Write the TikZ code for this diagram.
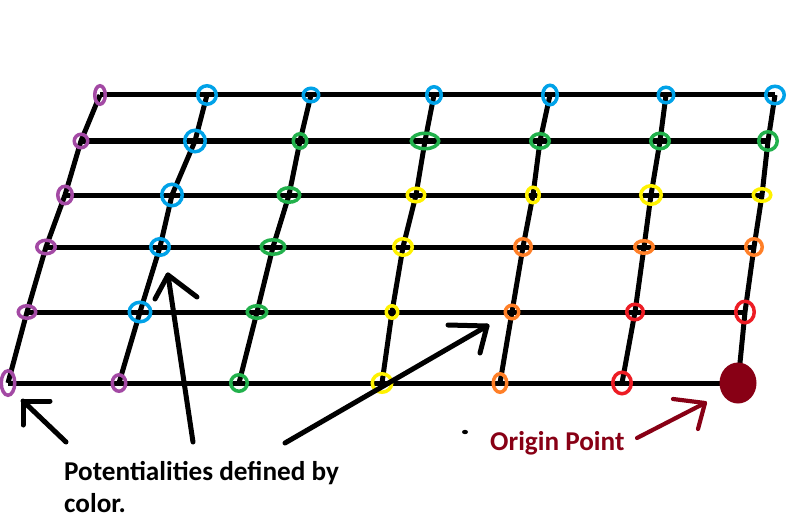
\documentclass[tikz,border=0pt]{standalone}
\usepackage{fontspec}
\setmainfont{Carlito}
\definecolor{ppurple}{HTML}{A349A4}
\definecolor{pblue}{HTML}{00A2E8}
\definecolor{pgreen}{HTML}{22B14C}
\definecolor{pyellow}{HTML}{FFF200}
\definecolor{porange}{HTML}{FF7F27}
\definecolor{pred}{HTML}{ED1C24}
\definecolor{pdarkred}{HTML}{880015}
\tikzset{
  gridline/.style={black,line width=5pt,line join=round},
  ringline/.style={line width=3.5pt},
  arrowline/.style={black,line width=5pt,line join=round,line cap=round},
  originarrow/.style={pdarkred,line width=4.2pt,line join=round,line cap=round},
  labeltext/.style={anchor=base west,inner sep=0pt,font=\fontsize{27.2}{32}\selectfont\bfseries}
}
\newcommand\pring[4]{\draw[ringline,#2] (#1) ellipse [x radius={((#3)-3.5)*0.5pt}, y radius={((#4)-3.5)*0.5pt}];}
\begin{document}
\begin{tikzpicture}[x=1pt,y=-1pt]
\useasboundingbox[fill=white] (0,0) rectangle (800,532);
% grid intersections
\foreach \x [count=\c from 0] in {100,207,311,434,550,666,775} \coordinate (r0-c\c) at (\x,95);
\foreach \x [count=\c from 0] in {81,195,300,425,540,660,768} \coordinate (r1-c\c) at (\x,141);
\foreach \x [count=\c from 0] in {65,172,289,416,533,651,762} \coordinate (r2-c\c) at (\x,195);
\foreach \x [count=\c from 0] in {46,160,273,403,523,644,754} \coordinate (r3-c\c) at (\x,247);
\foreach \x [count=\c from 0] in {27,140,257,392,512,635,745} \coordinate (r4-c\c) at (\x,312);
\foreach \x [count=\c from 0] in {8,119,239,382,500,622,738} \coordinate (r5-c\c) at (\x,383);
% grid lines
\foreach \r in {0,...,5} \draw[gridline] (r\r-c0) -- (r\r-c6);
\foreach \c in {0,...,6} \draw[gridline] (r0-c\c) -- (r1-c\c) -- (r2-c\c) -- (r3-c\c) -- (r4-c\c) -- (r5-c\c);
% rings row 0
\pring{r0-c0}{ppurple}{14}{22}
\pring{r0-c1}{pblue}{22}{22}
\pring{r0-c2}{pblue}{19}{17}
\pring{r0-c3}{pblue}{18}{20}
\pring{r0-c4}{pblue}{18}{23}
\pring{r0-c5}{pblue}{19}{19}
\pring{r0-c6}{pblue}{22}{21}
% row 1
\pring{r1-c0}{ppurple}{17}{17}
\pring{r1-c1}{pblue}{24}{25}
\pring{r1-c2}{pgreen}{17}{18}
\pring{r1-c3}{pgreen}{31}{19}
\pring{r1-c4}{pgreen}{22}{18}
\pring{r1-c5}{pgreen}{22}{19}
\pring{r1-c6}{pgreen}{22}{22}
% row 2
\pring{r2-c0}{ppurple}{18}{21}
\pring{r2-c1}{pblue}{24}{25}
\pring{r2-c2}{pgreen}{25}{18}
\pring{r2-c3}{pyellow}{21}{17}
\pring{r2-c4}{pyellow}{16}{19}
\pring{r2-c5}{pyellow}{24}{22}
\pring{r2-c6}{pyellow}{21}{16}
% row 3
\pring{r3-c0}{ppurple}{22}{17}
\pring{r3-c1}{pblue}{22}{20}
\pring{r3-c2}{pgreen}{27}{18}
\pring{r3-c3}{pyellow}{22}{20}
\pring{r3-c4}{porange}{20}{20}
\pring{r3-c5}{porange}{22}{16}
\pring{r3-c6}{porange}{20}{20}
% row 4
\pring{r4-c0}{ppurple}{21}{16}
\pring{r4-c1}{pblue}{25}{23}
\pring{r4-c2}{pgreen}{23}{16}
\pring{r4-c3}{pyellow}{15}{16}
\pring{r4-c4}{porange}{17}{17}
\pring{r4-c5}{pred}{20}{19}
\pring{r4-c6}{pred}{22}{25}
% row 5
\pring{r5-c0}{ppurple}{17}{28}
\pring{r5-c1}{ppurple}{17}{20}
\pring{r5-c2}{pgreen}{20}{20}
\pring{r5-c3}{pyellow}{23}{22}
\pring{r5-c4}{porange}{17}{22}
\pring{r5-c5}{pred}{22}{25}
\fill[pdarkred] (r5-c6) ellipse [x radius=18.5pt, y radius=20.5pt];
% arrows
\coordinate (a1tail) at (66,442); \coordinate (a1tip) at (23,401);
\coordinate (a1armA) at (50,401); \coordinate (a1armB) at (23,425);
\draw[arrowline] (a1tail) -- (a1tip);
\draw[arrowline] (a1armA) -- (a1tip) -- (a1armB);
\coordinate (a2tail) at (193,442); \coordinate (a2tip) at (168,275);
\coordinate (a2armA) at (155,299); \coordinate (a2armB) at (197,297);
\draw[arrowline] (a2tail) -- (a2tip);
\draw[arrowline] (a2armA) -- (a2tip) -- (a2armB);
\coordinate (a3tail) at (285,443); \coordinate (a3tip) at (487,326);
\coordinate (a3armA) at (448,325); \coordinate (a3armB) at (480,353);
\draw[arrowline] (a3tail) -- (a3tip);
\draw[arrowline] (a3armA) -- (a3tip) -- (a3armB);
\coordinate (a4tail) at (637,438); \coordinate (a4tip) at (705,403);
\coordinate (a4armA) at (673,399); \coordinate (a4armB) at (698,429);
\draw[originarrow] (a4tail) -- (a4tip);
\draw[originarrow] (a4armA) -- (a4tip) -- (a4armB);
% stray dot
\fill[black] (465,432) ellipse [x radius=3pt, y radius=2.2pt];
% texts
\node[labeltext] (potext) at (64,480) {Potentialities defined by};
\node[labeltext] (colortext) at (64,512) {color.};
\node[labeltext,text=pdarkred] (origintext) at (490,450) {Origin Point};
\end{tikzpicture}
\end{document}
